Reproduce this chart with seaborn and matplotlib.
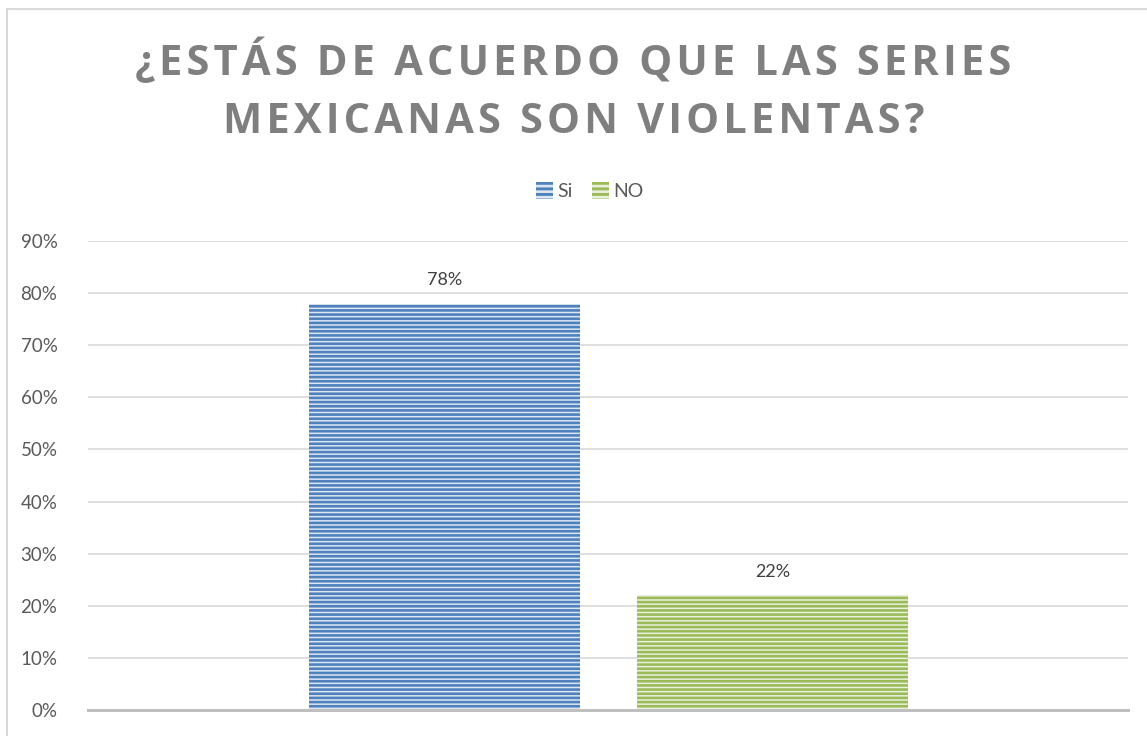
import matplotlib
matplotlib.use("Agg")
import matplotlib.pyplot as plt
import matplotlib.patches as mpatches
import seaborn as sns
import pandas as pd

# Survey answers and their shares
answers = ["Si", "NO"]
shares = [0.78, 0.22]
labels = ["78%", "22%"]
colors = ["#4F81BD", "#9BBB59"]
yticks = [0.0, 0.1, 0.2, 0.3, 0.4, 0.5, 0.6, 0.7, 0.8, 0.9]
title_lines = ["¿ESTÁS DE ACUERDO QUE LAS SERIES", "MEXICANAS SON VIOLENTAS?"]

sns.set_theme(style="white")
plt.rcParams["font.family"] = ["Lato", "DejaVu Sans"]
plt.rcParams["hatch.linewidth"] = 1.9

df = pd.DataFrame({"respuesta": answers, "valor": shares})

fig = plt.figure(figsize=(11.47, 7.36), dpi=100)
ax = fig.add_axes([88 / 1147, 1 - 710 / 736, (1128 - 88) / 1147, (710 - 241) / 736])

sns.barplot(data=df, x="respuesta", y="valor", hue="respuesta", palette=colors,
            width=0.825, legend=False, ax=ax, saturation=1)

light = {colors[0]: "#DCE6F2", colors[1]: "#E9F0DC"}
for patch, col in zip(ax.patches, colors):
    patch.set_facecolor(light[col])
    patch.set_edgecolor(col)
    patch.set_hatch("----")
    patch.set_linewidth(0.0)

for i, (v, lab) in enumerate(zip(shares, labels)):
    ax.text(i, v + 0.03, lab, ha="center", va="bottom", fontsize=13, color="#404040")

ax.set_xlim(-1.085, 2.081)
ax.set_ylim(0, 0.9)
ax.set_yticks(yticks)
ax.set_yticklabels([f"{int(round(t * 100))}%" for t in yticks], fontsize=13.5, color="#595959")
ax.tick_params(axis="y", length=0, pad=22)
ax.set_xticks([])
ax.set_xlabel("")
ax.set_ylabel("")
ax.yaxis.grid(True, color="#D9D9D9", linewidth=1.2)
ax.set_axisbelow(True)
for s in ["top", "right", "left"]:
    ax.spines[s].set_visible(False)
ax.spines["bottom"].set_color("#BFBFBF")
ax.spines["bottom"].set_linewidth(2.2)

# Title with widened letter spacing (hair spaces between glyphs)
spaced = "\n".join("\u200a".join(line) for line in title_lines)
fig.text(0.5, 1 - 91 / 736, spaced, ha="center", va="center", fontsize=30,
         fontweight="bold", color="#7F7F7F", linespacing=1.55,
         family=["Open Sans", "DejaVu Sans"])

handles = [mpatches.Patch(facecolor=c, edgecolor=light[c], hatch="---", linewidth=0) for c in colors]
fig.legend(handles, answers, loc="center", bbox_to_anchor=(590 / 1147, 1 - 191 / 736),
           ncol=2, frameon=False, fontsize=14, handlelength=0.85, handleheight=0.95,
           handletextpad=0.25, columnspacing=1.0, labelcolor="#595959")

border = mpatches.Rectangle((7 / 1147, -0.05), 1.1, 1 - 9 / 736 + 0.05, transform=fig.transFigure,
                            fill=False, edgecolor="#D9D9D9", linewidth=1.5)
fig.add_artist(border)

fig.savefig("out.png", dpi=100)
